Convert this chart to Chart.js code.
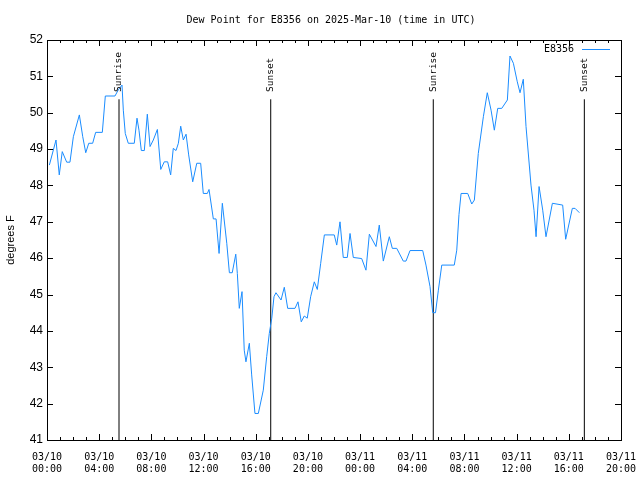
<!DOCTYPE html>
<html>
<head>
<meta charset="utf-8">
<script src="https://cdn.jsdelivr.net/npm/chart.js@4/dist/chart.umd.min.js"></script>
<style>
  html, body { margin: 0; padding: 0; background: #fff; }
  #wrap { width: 640px; height: 480px; }
</style>
</head>
<body>
<div id="wrap"><canvas id="chart" width="640" height="480"></canvas></div>
<script>
// Hours since 03/10 00:00 UTC, and dew point (F).
const hours = [
  0.18, 0.69, 0.94, 1.17, 1.51, 1.76, 2.02, 2.48, 2.74, 2.97,
  3.20, 3.50, 3.73, 4.24, 4.47, 5.21, 5.47, 5.75, 5.85, 6.00,
  6.23, 6.69, 6.90, 7.05, 7.23, 7.46, 7.69, 7.90, 8.15, 8.46,
  8.72, 8.99, 9.25, 9.48, 9.68, 9.89, 10.07, 10.25, 10.45, 10.66,
  10.86, 11.17, 11.48, 11.78, 11.98, 12.29, 12.42, 12.75, 12.96, 13.19,
  13.44, 13.78, 13.98, 14.20, 14.47, 14.59, 14.74, 14.95, 15.12, 15.25,
  15.51, 15.69, 15.94, 16.20, 16.58, 16.84, 17.04, 17.23, 17.40, 17.55,
  17.94, 18.19, 18.45, 19.01, 19.24, 19.49, 19.72, 19.95, 20.21, 20.49,
  20.72, 20.98, 21.26, 22.02, 22.21, 22.46, 22.71, 23.02, 23.23, 23.48,
  24.12, 24.45, 24.71, 25.22, 25.47, 25.78, 26.24, 26.47, 26.81, 27.31,
  27.52, 27.83, 28.80, 29.05, 29.36, 29.57, 29.78, 30.00, 30.26, 31.22,
  31.41, 31.58, 31.74, 32.25, 32.56, 32.76, 33.06, 33.45, 33.75, 34.04,
  34.29, 34.55, 34.86, 35.29, 35.49, 35.75, 36.05, 36.26, 36.51, 36.72,
  37.10, 37.33, 37.49, 37.72, 38.00, 38.25, 38.74, 39.53, 39.76, 40.27,
  40.48, 40.81
];
const dewPoint = [
  48.56, 49.25, 48.29, 48.93, 48.64, 48.64, 49.34, 49.94, 49.34, 48.90,
  49.16, 49.16, 49.46, 49.46, 50.46, 50.46, 50.63, 50.76, 50.07, 49.43,
  49.16, 49.16, 49.85, 49.52, 48.96, 48.96, 49.96, 49.07, 49.25, 49.54,
  48.44, 48.65, 48.65, 48.29, 49.02, 48.96, 49.16, 49.63, 49.25, 49.41,
  48.84, 48.10, 48.61, 48.61, 47.78, 47.78, 47.89, 47.08, 47.08, 46.13,
  47.51, 46.41, 45.60, 45.60, 46.11, 45.58, 44.62, 45.08, 43.47, 43.15,
  43.66, 42.79, 41.73, 41.73, 42.37, 43.29, 43.93, 44.35, 44.94, 45.05,
  44.85, 45.20, 44.62, 44.62, 44.80, 44.25, 44.41, 44.35, 44.94, 45.35,
  45.14, 45.86, 46.64, 46.64, 46.36, 47.00, 46.02, 46.02, 46.68, 46.02,
  45.99, 45.67, 46.66, 46.32, 46.91, 45.92, 46.59, 46.27, 46.27, 45.92,
  45.92, 46.21, 46.21, 45.81, 45.22, 44.50, 44.50, 45.12, 45.81, 45.81,
  46.22, 47.20, 47.78, 47.78, 47.49, 47.60, 48.88, 49.89, 50.55, 50.07,
  49.52, 50.12, 50.12, 50.35, 51.56, 51.36, 50.85, 50.55, 50.92, 49.62,
  48.01, 47.32, 46.59, 47.97, 47.32, 46.59, 47.51, 47.46, 46.52, 47.37,
  47.37, 47.25
];

// Sun events (hours since 03/10 00:00) and their labels.
const sunHours  = [5.52, 17.15, 29.61, 41.19];
const sunLabels = ["Sunrise", "Sunset", "Sunrise", "Sunset"];
const sunLineTop = 50.37;

// Axis ticks: every 4 hours, labelled with date and time.
const xTickDates = ["03/10", "03/10", "03/10", "03/10", "03/10", "03/10",
                    "03/11", "03/11", "03/11", "03/11", "03/11", "03/11"];
const xTickTimes = ["00:00", "04:00", "08:00", "12:00", "16:00", "20:00",
                    "00:00", "04:00", "08:00", "12:00", "16:00", "20:00"];

const seriesName = "E8356";
const titleText  = "Dew Point for E8356 on 2025-Mar-10 (time in UTC)";
const yTitle     = "degrees F";
const LINE_COLOR = "#1a8cff";
const MONO = "'DejaVu Sans Mono', monospace";
const SANS = "'Liberation Sans', Arial, sans-serif";

const sunDatasets = sunHours.map(h => ({
  data: [{ x: h, y: 41 }, { x: h, y: sunLineTop }],
  borderColor: "#000",
  borderWidth: 1,
  pointRadius: 0,
  order: 2
}));

// gnuplot-style frame: box, inward ticks on all sides, texts.
const framePlugin = {
  id: "frame",
  afterDraw(chart) {
    const { ctx, chartArea: a, scales: { x, y } } = chart;
    ctx.save();
    ctx.strokeStyle = "#000";
    ctx.lineWidth = 1;
    ctx.strokeRect(Math.round(a.left) + 0.5, Math.round(a.top) + 0.5,
                   Math.round(a.right - a.left), Math.round(a.bottom - a.top));

    ctx.beginPath();
    for (let h = 0; h <= 44; h++) {
      const px = Math.round(x.getPixelForValue(h)) + 0.5;
      const len = h % 4 === 0 ? 6 : 3;
      ctx.moveTo(px, a.bottom); ctx.lineTo(px, a.bottom - len);
      ctx.moveTo(px, a.top);    ctx.lineTo(px, a.top + len);
    }
    for (let v = 41; v <= 52; v++) {
      const py = Math.round(y.getPixelForValue(v)) + 0.5;
      ctx.moveTo(a.left, py);  ctx.lineTo(a.left + 6, py);
      ctx.moveTo(a.right, py); ctx.lineTo(a.right - 6, py);
    }
    ctx.stroke();

    ctx.fillStyle = "#000";
    ctx.font = "10px " + MONO;
    ctx.textAlign = "center";
    ctx.textBaseline = "middle";
    ctx.fillText(titleText, 331, 20);

    // legend
    ctx.textAlign = "right";
    ctx.fillText(seriesName, 574, 49);
    ctx.strokeStyle = LINE_COLOR;
    ctx.beginPath();
    ctx.moveTo(582, 49.5); ctx.lineTo(610, 49.5);
    ctx.stroke();

    // sun event labels, rotated
    ctx.font = "9.5px " + MONO;
    sunHours.forEach((h, i) => {
      const px = x.getPixelForValue(h);
      ctx.save();
      ctx.translate(px, 92);
      ctx.rotate(-Math.PI / 2);
      ctx.textAlign = "left";
      ctx.textBaseline = "middle";
      ctx.fillText(sunLabels[i], 0, 0);
      ctx.restore();
    });

    // y title
    ctx.save();
    ctx.translate(11, 240);
    ctx.rotate(-Math.PI / 2);
    ctx.font = "11px " + SANS;
    ctx.textAlign = "center";
    ctx.textBaseline = "middle";
    ctx.fillText(yTitle, 0, 0);
    ctx.restore();
    ctx.restore();
  }
};

new Chart(document.getElementById("chart"), {
  type: "line",
  data: {
    datasets: [
      {
        label: seriesName,
        data: hours.map((h, i) => ({ x: h, y: dewPoint[i] })),
        borderColor: LINE_COLOR,
        borderWidth: 1,
        pointRadius: 0,
        tension: 0,
        order: 1
      },
      ...sunDatasets
    ]
  },
  options: {
    responsive: false,
    animation: false,
    layout: { padding: { top: 40, right: 19, left: 0, bottom: 0 } },
    plugins: { legend: { display: false }, tooltip: { enabled: false } },
    scales: {
      x: {
        type: "linear",
        min: 0,
        max: 44,
        afterFit: s => { s.height = 40; s.paddingLeft = 0; s.paddingRight = 0; },
        afterBuildTicks: s => { s.ticks = xTickDates.map((d, i) => ({ value: i * 4 })); },
        grid: { display: false, drawTicks: false },
        border: { display: false },
        ticks: {
          padding: 11,
          maxRotation: 0,
          autoSkip: false,
          color: "#000",
          font: { family: MONO, size: 10 },
          callback: (v) => [xTickDates[v / 4], xTickTimes[v / 4]]
        }
      },
      y: {
        min: 41,
        max: 52,
        afterFit: s => { s.width = 47; s.paddingTop = 0; s.paddingBottom = 0; },
        grid: { display: false, drawTicks: false },
        border: { display: false },
        ticks: {
          stepSize: 1,
          padding: 4,
          color: "#000",
          font: { family: SANS, size: 12 }
        }
      }
    }
  },
  plugins: [framePlugin]
});
</script>
</body>
</html>
